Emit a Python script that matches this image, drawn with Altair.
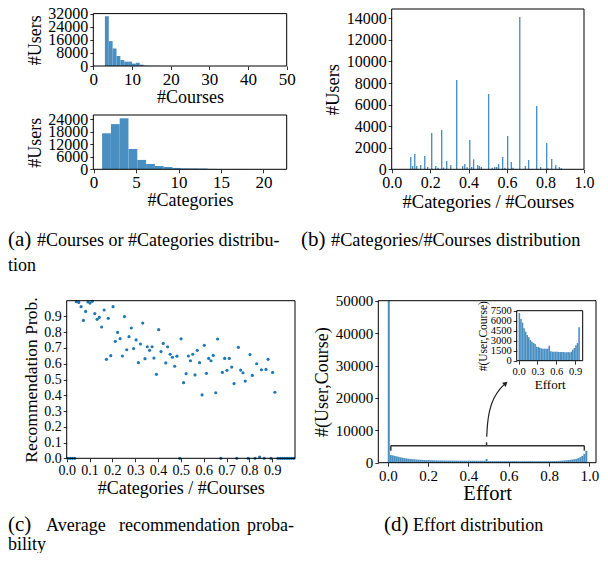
import altair as alt
import pandas as pd

FONT = "Liberation Serif"
BAR = "#4a8fc2"
PT = "#1f77b4"
INK = "#000000"

W, H = 592, 545

# ---------------- data ----------------
# (a) top: #Courses per user (bins of width 1)
courses_bin = [3, 4, 5, 6, 7, 8, 9, 10, 11, 12, 13, 14, 15, 16, 17, 18, 19, 20]
courses_users = [30400, 15200, 10700, 6100, 3650, 2650, 2650, 1450, 2000, 850,
                 250, 150, 100, 80, 60, 40, 30, 20]

# (a) bottom: #Categories per user
cat_bin = [1.00, 2.04, 3.07, 4.11, 5.14, 6.18, 7.21, 8.25, 9.28, 10.32,
           11.35, 12.39, 13.42, 14.46, 15.49, 16.53, 17.56, 18.60, 19.63, 20.67]
cat_users = [17300, 21700, 24500, 9750, 4500, 2550, 1600, 1100, 650, 480,
             450, 400, 200, 150, 100, 80, 60, 40, 30, 20]

# (b) #Categories/#Courses histogram
ratio_center = [0.099, 0.109, 0.120, 0.130, 0.151, 0.172, 0.187, 0.208, 0.229, 0.241,
                0.260, 0.270, 0.286, 0.307, 0.338, 0.369, 0.380, 0.392, 0.406, 0.416,
                0.426, 0.447, 0.456, 0.466, 0.504, 0.523, 0.536, 0.546, 0.556, 0.577,
                0.588, 0.603, 0.622, 0.631, 0.666, 0.695, 0.712, 0.754, 0.775, 0.806,
                0.813, 0.832, 0.853, 0.872, 0.882]
ratio_users = [1144, 309, 1422, 309, 400, 1236, 216, 3369, 309, 155,
               3648, 155, 773, 400, 8282, 309, 495, 185, 2720, 216,
               927, 400, 309, 216, 6985, 155, 216, 216, 495, 1144,
               155, 3091, 680, 155, 14122, 309, 865, 5873, 216, 2442,
               93, 958, 400, 216, 93]

# (c) average recommendation probability
prob_x = [0.005, 0.015, 0.025, 0.035,
          0.042, 0.053, 0.063, 0.073, 0.083, 0.093, 0.102, 0.112, 0.123, 0.133,
          0.143, 0.153, 0.164, 0.174, 0.182, 0.193, 0.203, 0.213, 0.223, 0.234,
          0.244, 0.253, 0.263, 0.273, 0.283, 0.293, 0.304, 0.314, 0.323, 0.333,
          0.343, 0.353, 0.363, 0.374, 0.382, 0.393, 0.403, 0.413, 0.423, 0.434,
          0.442, 0.453, 0.463, 0.473, 0.483, 0.495, 0.501, 0.512, 0.523, 0.533,
          0.542, 0.552, 0.562, 0.572, 0.582, 0.593, 0.603, 0.612, 0.622, 0.632,
          0.642, 0.653, 0.661, 0.675, 0.682, 0.692, 0.702, 0.712, 0.723, 0.733,
          0.745, 0.752, 0.762, 0.772, 0.782, 0.795, 0.803, 0.813, 0.825, 0.832,
          0.845, 0.853, 0.865, 0.873, 0.882, 0.895, 0.902, 0.912, 0.925, 0.935,
          0.945, 0.955, 0.965, 0.975, 0.985, 0.995]
prob_y = [0.0, 0.0, 0.0, 0.0,
          0.994, 0.989, 0.962, 0.875, 0.932, 0.992, 0.985, 0.996, 0.918, 0.882,
          0.894, 0.833, 0.941, 0.628, 0.888, 0.651, 0.962, 0.742, 0.799, 0.759,
          0.649, 0.899, 0.689, 0.772, 0.827, 0.696, 0.751, 0.607, 0.725, 0.858,
          0.632, 0.708, 0.685, 0.708, 0.636, 0.533, 0.816, 0.677, 0.729, 0.605,
          0.708, 0.660, 0.641, 0.584, 0.648, 0.0, 0.758, 0.480, 0.537, 0.649,
          0.619, 0.660, 0.529, 0.685, 0.607, 0.402, 0.717, 0.539, 0.634, 0.619,
          0.653, 0.416, 0.757, 0.0, 0.545, 0.634, 0.558, 0.634, 0.579, 0.474,
          0.0, 0.704, 0.560, 0.543, 0.490, 0.0, 0.658, 0.526, 0.0, 0.600,
          0.008, 0.562, 0.0, 0.564, 0.628, 0.0, 0.545, 0.419, 0.0, 0.0,
          0.0, 0.0, 0.0, 0.0, 0.0, 0.0]

# (d) effort distribution (bins of width 0.0099)
effort_users = [60000,
                2400, 2250, 2100, 1950, 1800, 1650, 1520, 1400, 1300, 1220,
                1150, 1090, 1030, 980, 940, 900, 870, 840, 810, 790,
                760, 740, 720, 700, 690, 680, 670, 660, 650, 645,
                640, 635, 630, 625, 620, 620, 615, 615, 610, 610,
                605, 605, 600, 600, 600, 600, 600, 600,
                1150,
                500, 500, 495, 495, 490, 490, 490, 485, 485, 485,
                480, 480, 480, 480, 475, 475, 475, 470, 470, 470,
                470, 470, 470, 465, 465, 465, 465, 470, 470, 475,
                480, 490, 500, 510, 530,
                560, 590, 630, 680, 740, 810, 890, 980, 1080,
                1200, 1400, 1700, 2100, 2700, 3700]
effort_start = [i * 0.0099 for i in range(len(effort_users))]

# inset: effort distribution without the zero bin (bins of width 0.025)
inset_users = [7150, 6250, 5700, 4850, 4350, 3850, 3500, 3100, 2850, 2650,
               2500, 2100, 2050, 1950, 1850, 1800, 1800, 1800, 1800, 2250,
               1400, 1350, 1350, 1350, 1350, 1300, 1300, 1300, 1300, 1250,
               1250, 1300, 1250, 1350, 1650, 1900, 2300, 2650, 5000]
inset_start = [i * 0.025 for i in range(len(inset_users))]

# annotation in (d): bracket and curved arrow (data space of panel d)
bracket_x = [0.015, 0.015, 0.975, 0.490]
bracket_x2 = [0.975, 0.015, 0.975, 0.490]
bracket_y = [5250, 5250, 5250, 5250]
bracket_y2 = [5250, 3700, 3700, 6300]
arrow_x = [0.491, 0.494, 0.504, 0.524, 0.557, 0.585]
arrow_y = [8000, 12160, 16260, 19870, 22960, 24500]

captions = ["(a)", "#Courses or #Categories distribu-", "tion",
            "(b)", "#Categories/#Courses distribution",
            "(c)", "Average", "recommendation", "proba-", "bility",
            "(d)", "Effort distribution"]
caption_x = [0, 29, 0, 293, 323, 0, 38, 111, 239, 0, 376, 405]
caption_y = [238, 238, 263, 238, 238, 523, 523, 523, 523, 542, 523, 523]
caption_size = [21, 18, 18, 21, 18.3, 21, 18, 18, 18, 18, 21, 18]


# ---------------- helpers ----------------
def scale(dom, rng):
    return alt.Scale(domain=dom, range=rng, nice=False, zero=False, clamp=True)


def axis(orient, offset, values, fmt, title, lfs, tfs, tpad=4):
    return alt.Axis(orient=orient, offset=offset, values=values, format=fmt, title=title,
                    labelFontSize=lfs, titleFontSize=tfs, domain=False, grid=False,
                    ticks=True, tickSize=3.5, tickWidth=0.8, tickColor=INK,
                    labelOverlap=False, labelFlush=False, labelPadding=2,
                    labelColor=INK, titleColor=INK, titlePadding=tpad,
                    labelFont=FONT, titleFont=FONT, titleFontWeight="normal")


def frame(xs, ys, xdom, ydom, xax, yax):
    df = pd.DataFrame({"x0": [xdom[0]], "x1": [xdom[1]], "y0": [ydom[0]], "y1": [ydom[1]]})
    return alt.Chart(df).mark_rect(fill="transparent", stroke=INK, strokeWidth=1).encode(
        x=alt.X("x0:Q", scale=xs, axis=xax), x2="x1:Q",
        y=alt.Y("y0:Q", scale=ys, axis=yax), y2="y1:Q")


def hist_panel(starts, widths, counts, xdom, xr, ydom, yr, xax, yax):
    df = pd.DataFrame({"s": starts, "c": counts})
    df["e"] = df["s"] + widths
    df["z"] = 0
    xs, ys = scale(xdom, xr), scale(ydom, yr)
    bars = alt.Chart(df).mark_rect(color=BAR).encode(
        x=alt.X("s:Q", scale=xs, axis=xax), x2="e:Q",
        y=alt.Y("c:Q", scale=ys, axis=yax), y2="z:Q")
    return xs, ys, bars


# ---------------- panel (a) top ----------------
xd, yd = [0, 50], [0, 32000]
xr, yr = [85.3, 278.7], [58, 5.6]
xa = axis("bottom", 58 - H, [0, 10, 20, 30, 40, 50], "d", "#Courses", 17, 18, 1)
ya = axis("left", -85.3, [0, 8000, 16000, 24000, 32000], "d", "#Users", 16, 18, 3)
xs, ys, bars = hist_panel(courses_bin, 1.0, courses_users, xd, xr, yd, yr, xa, ya)
pa1 = alt.layer(bars, frame(xs, ys, xd, yd, xa, ya))

# ---------------- panel (a) bottom ----------------
xd, yd = [-0.035, 22.735], [0, 26080]
xr, yr = [85.3, 278.7], [161.3, 107]
xa = axis("bottom", 161.3 - H, [0, 5, 10, 15, 20], "d", "#Categories", 17, 18, 1)
ya = axis("left", -85.3, [0, 6000, 12000, 18000, 24000], "d", "#Users", 16, 18, 3)
xs, ys, bars = hist_panel(cat_bin, 1.035, cat_users, xd, xr, yd, yr, xa, ya)
pa2 = alt.layer(bars, frame(xs, ys, xd, yd, xa, ya))

# ---------------- panel (b) ----------------
xd, yd = [0, 1], [0, 14865]
xr, yr = [383.7, 576], [161.3, 1]
xa = axis("bottom", 161.3 - H, [0, 0.2, 0.4, 0.6, 0.8, 1.0], ".1f",
          "#Categories / #Courses", 16, 18.5, 2)
ya = axis("left", -383.7, list(range(0, 14001, 2000)), "d", "#Users", 16, 18.5)
bdf = pd.DataFrame({"m": ratio_center, "c": ratio_users})
bdf["s"] = bdf["m"] - 0.0035
bdf["e"] = bdf["m"] + 0.0035
bdf["z"] = 0
xs, ys = scale(xd, xr), scale(yd, yr)
bbars = alt.Chart(bdf).mark_rect(color=BAR).encode(
    x=alt.X("s:Q", scale=xs, axis=xa), x2="e:Q",
    y=alt.Y("c:Q", scale=ys, axis=ya), y2="z:Q")
pb = alt.layer(bbars, frame(xs, ys, xd, yd, xa, ya))

# ---------------- panel (c) ----------------
xd, yd = [0, 1], [0, 1]
xr, yr = [58.7, 287], [450.3, 292.7]
xa = axis("bottom", 450.3 - H, [i / 10 for i in range(10)], ".1f",
          "#Categories / #Courses", 14, 18, 2)
ya = axis("left", -58.7, [i / 10 for i in range(10)], ".1f", "Recommendation Prob.", 14, 17.5, 3)
xs, ys = scale(xd, xr), scale(yd, yr)
cdf = pd.DataFrame({"x": prob_x, "y": prob_y})
pts = alt.Chart(cdf).mark_circle(color=PT, opacity=1, size=10).encode(
    x=alt.X("x:Q", scale=xs, axis=xa), y=alt.Y("y:Q", scale=ys, axis=ya))
pc = alt.layer(pts, frame(xs, ys, xd, yd, xa, ya))

# ---------------- panel (d) ----------------
xd, yd = [-0.047, 1.033], [0, 50000]
xr, yr = [370.3, 588], [454.7, 292.7]
xa = axis("bottom", 454.7 - H, [0, 0.2, 0.4, 0.6, 0.8, 1.0], ".1f", "Effort", 15, 20.5, 0)
ya = axis("left", -370.3, list(range(0, 50001, 10000)), "d", "#(User,Course)", 15, 18, 4)
xs, ys, bars = hist_panel(effort_start, 0.0099, effort_users, xd, xr, yd, yr, xa, ya)
brk = pd.DataFrame({"x": bracket_x, "x2": bracket_x2, "y": bracket_y, "y2": bracket_y2})
bracket = alt.Chart(brk).mark_rule(color="#333333", strokeWidth=1.5).encode(
    x=alt.X("x:Q", scale=xs, axis=xa), x2="x2:Q",
    y=alt.Y("y:Q", scale=ys, axis=ya), y2="y2:Q")
adf = pd.DataFrame({"x": arrow_x, "y": arrow_y, "o": list(range(len(arrow_x)))})
arrow = alt.Chart(adf).mark_line(color="#222222", strokeWidth=1.2, interpolate="basis").encode(
    x=alt.X("x:Q", scale=xs, axis=xa), y=alt.Y("y:Q", scale=ys, axis=ya), order="o:Q")
head = alt.Chart(adf.tail(1)).mark_point(shape="triangle-up", angle=50, filled=True,
                                         size=30, color="#222222", opacity=1).encode(
    x=alt.X("x:Q", scale=xs, axis=xa), y=alt.Y("y:Q", scale=ys, axis=ya))
pd_panel = alt.layer(bars, bracket, arrow, head, frame(xs, ys, xd, yd, xa, ya))

# ---------------- inset ----------------
xd, yd = [-0.03, 1.02], [0, 7500]
xr, yr = [508.7, 574.7], [352.7, 302.7]
xa = axis("bottom", 352.7 - H, [0, 0.3, 0.6, 0.9], ".1f", "Effort", 10.5, 13, 2)
ya = axis("left", -508.7, [0, 1500, 3000, 4500, 6000, 7500], "d", "#(User,Course)", 10.5, 11.5, 2)
xs, ys, bars = hist_panel(inset_start, 0.025, inset_users, xd, xr, yd, yr, xa, ya)
pin = alt.layer(bars, frame(xs, ys, xd, yd, xa, ya))

# ---------------- captions ----------------
cap_layers = []
for t, x, y, s in zip(captions, caption_x, caption_y, caption_size):
    cap_layers.append(
        alt.Chart(pd.DataFrame({"t": [t]})).mark_text(
            align="left", baseline="alphabetic", font=FONT, fontSize=s, color=INK
        ).encode(text="t:N", x=alt.value(x), y=alt.value(y)))

chart = alt.layer(pa1, pa2, pb, pc, pd_panel, pin, *cap_layers).resolve_scale(
    x="independent", y="independent"
).resolve_axis(
    x="independent", y="independent"
).properties(
    width=W, height=H, padding=0, autosize=alt.AutoSizeParams(type="none")
).configure_view(stroke=None)

chart.save("out.html", embed_options={"renderer": "svg", "actions": False})
